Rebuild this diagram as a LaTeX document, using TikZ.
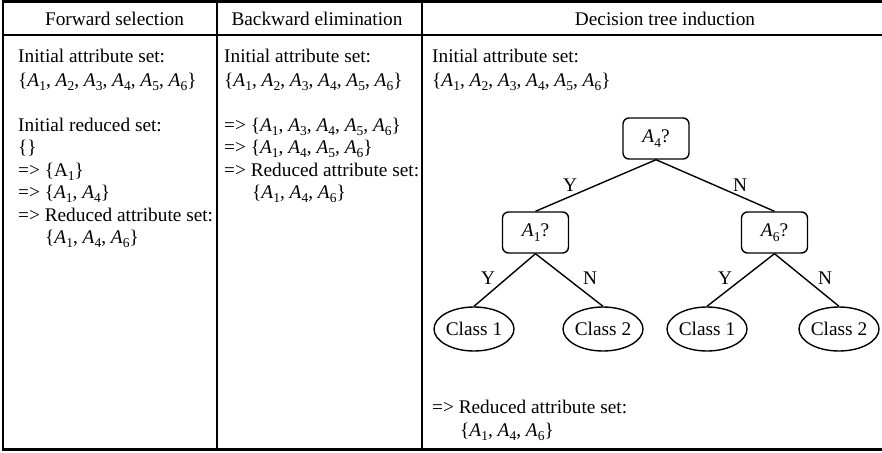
\documentclass[tikz,border=0pt]{standalone}
\usepackage{fontspec}
\setmainfont{Liberation Serif}
\usetikzlibrary{shapes.geometric}
\newcommand{\Sb}[1]{\raisebox{-0.24em}{\fontsize{13.5}{13.5}\selectfont #1}}
\newcommand{\Ai}[1]{\textit{A}\Sb{#1}}
\begin{document}
\begin{tikzpicture}[x=1pt,y=-1pt,
  every node/.style={inner sep=0pt, font=\fontsize{19.3}{22.5}\selectfont},
  txt/.style={anchor=base west},
  hdr/.style={anchor=base},
  framethick/.style={line width=2.6pt},
  framethin/.style={line width=1.4pt},
  decbox/.style={draw, line width=1.4pt, rounded corners=6pt, minimum width=66pt, minimum height=41pt},
  leaf/.style={draw, ellipse, line width=1.4pt, minimum width=80pt, minimum height=44pt},
  edgeline/.style={line width=1.4pt},
  lbl/.style={anchor=center}]
\useasboundingbox (0,0) rectangle (882,452);
% table frame
\draw[framethick] (886,1.5) -- (3,1.5) -- (3,449.5) -- (886,449.5);
\draw[framethick] (3,35) -- (886,35);
\draw[framethin] (217,1.5) -- (217,449.5);
\draw[framethin] (422,1.5) -- (422,449.5);
% headers
\node[hdr] (h1) at (114.5,25.5) {Forward selection};
\node[hdr] (h2) at (317,25.5) {Backward elimination};
\node[hdr] (h3) at (665,25.5) {Decision tree induction};
% column 1
\node[txt] (c1a) at (18,63) {Initial attribute set:};
\node[txt] (c1b) at (18,86) {\{\Ai1, \Ai2, \Ai3, \Ai4, \Ai5, \Ai6\}};
\node[txt] (c1c) at (18,131) {Initial reduced set:};
\node[txt] (c1d) at (18,153) {\{\}};
\node[txt] (c1e) at (18,176) {=> \{A\Sb{1}\}};
\node[txt] (c1f) at (18,198) {=> \{\Ai1, \Ai4\}};
\node[txt] (c1g) at (18,221) {=> Reduced attribute set:};
\node[txt] (c1h) at (45,243) {\{\Ai1, \Ai4, \Ai6\}};
% column 2
\node[txt] (c2a) at (224,63) {Initial attribute set:};
\node[txt] (c2b) at (224,86) {\{\Ai1, \Ai2, \Ai3, \Ai4, \Ai5, \Ai6\}};
\node[txt] (c2c) at (224,131) {=> \{\Ai1, \Ai3, \Ai4, \Ai5, \Ai6\}};
\node[txt] (c2d) at (224,153) {=> \{\Ai1, \Ai4, \Ai5, \Ai6\}};
\node[txt] (c2e) at (224,176) {=> Reduced attribute set:};
\node[txt] (c2f) at (252,198) {\{\Ai1, \Ai4, \Ai6\}};
% column 3
\node[txt] (c3a) at (432,63) {Initial attribute set:};
\node[txt] (c3b) at (432,86) {\{\Ai1, \Ai2, \Ai3, \Ai4, \Ai5, \Ai6\}};
\node[txt] (c3c) at (432,413) {=> Reduced attribute set:};
\node[txt] (c3d) at (460,436) {\{\Ai1, \Ai4, \Ai6\}};
% tree
\node[decbox] (a4) at (656,138.5) {\Ai4?};
\node[decbox] (a1) at (535.5,232.5) {\Ai1?};
\node[decbox] (a6) at (774.5,232.5) {\Ai6?};
\node[leaf] (l1) at (474,329) {Class 1};
\node[leaf] (l2) at (603,329) {Class 2};
\node[leaf] (l3) at (707,329) {Class 1};
\node[leaf] (l4) at (839,329) {Class 2};
\draw[edgeline] (a4.south) -- (a1.north);
\draw[edgeline] (a4.south) -- (a6.north);
\draw[edgeline] (a1.south) -- (l1.north);
\draw[edgeline] (a1.south) -- (l2.north);
\draw[edgeline] (a6.south) -- (l3.north);
\draw[edgeline] (a6.south) -- (l4.north);
\node[lbl] (y1) at (570,185) {Y};
\node[lbl] (n1) at (740,185) {N};
\node[lbl] (y2) at (488,278) {Y};
\node[lbl] (n2) at (590,278) {N};
\node[lbl] (y3) at (725,278) {Y};
\node[lbl] (n3) at (825,278) {N};
\end{tikzpicture}
\end{document}
